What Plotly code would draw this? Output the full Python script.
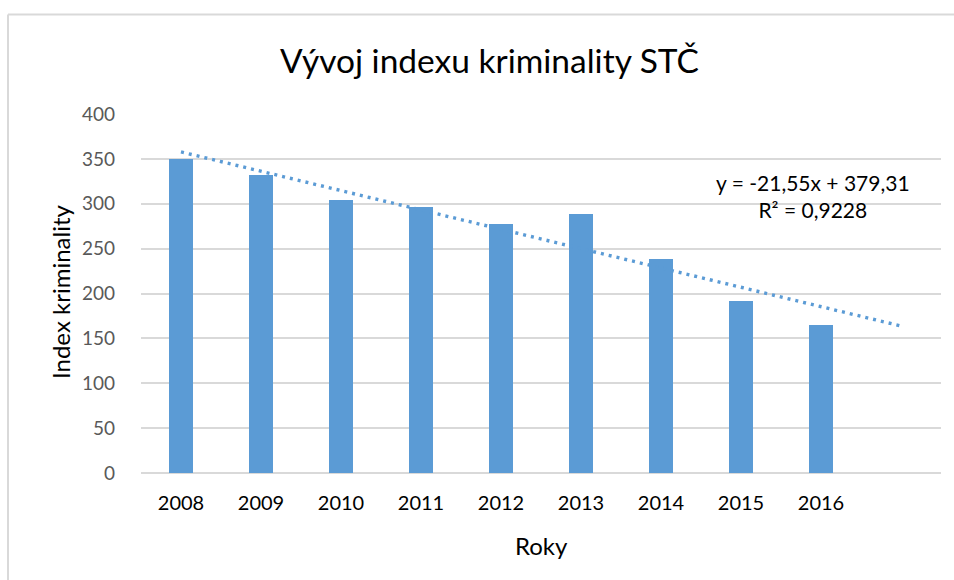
import plotly.graph_objects as go

years = ["2008", "2009", "2010", "2011", "2012", "2013", "2014", "2015", "2016"]
index_values = [350, 332, 304, 296, 278, 289, 238, 192, 165]
trend_slope = -21.55
trend_intercept = 379.31
trend_forward_periods = 1
y_ticks = [0, 50, 100, 150, 200, 250, 300, 350, 400]

BLUE = "#5B9BD5"
GRID = "#D9D9D9"
FONT = "Lato"

x_pos = list(range(len(years)))
n_trend = len(years) + trend_forward_periods
trend_x = list(range(n_trend))
trend_y = [trend_intercept + trend_slope * (i + 1) for i in trend_x]

fig = go.Figure()
fig.add_trace(go.Bar(x=x_pos, y=index_values, width=0.31, marker=dict(color=BLUE, line=dict(width=0)),
                     hoverinfo="x+y"))
fig.add_trace(go.Scatter(x=trend_x, y=trend_y, mode="lines",
                         line=dict(color=BLUE, width=3.4, dash="3px,5px")))

W, H = 954, 580
# plot area in pixel coords
PL, PR, PT, PB = 141, 941, 114, 473
L, T, R, B = PL, PT, W - PR, H - PB
pw, ph = PR - PL, PB - PT

def px(x):
    return (x - PL) / pw

def py(y):
    return (PB - y) / ph

fig.update_layout(
    width=W, height=H,
    margin=dict(l=L, r=R, t=T, b=B, pad=0),
    paper_bgcolor="white", plot_bgcolor="white",
    showlegend=False,
    bargap=0,
    font=dict(family=FONT, color="#595959"),
    xaxis=dict(range=[-0.5, n_trend - 0.5], tickmode="array", tickvals=x_pos, ticktext=years,
               showgrid=False, zeroline=False, showline=False, ticks="",
               tickfont=dict(size=20, color="#000000", family=FONT), ticklabelstandoff=16),
    yaxis=dict(range=[0, 400], tickmode="array", tickvals=y_ticks, showgrid=True, gridcolor=GRID,
               gridwidth=1.5, zeroline=True, zerolinecolor=GRID, zerolinewidth=1.5, showline=False,
               ticks="", tickfont=dict(size=19, color="#595959", family=FONT), ticklabelstandoff=25),
    shapes=[
        dict(type="line", xref="paper", yref="paper", x0=px(8), x1=px(W + 10), y0=py(14.5), y1=py(14.5),
             line=dict(color=GRID, width=2)),
        dict(type="line", xref="paper", yref="paper", x0=px(8), x1=px(8), y0=py(14.5), y1=py(H + 10),
             line=dict(color=GRID, width=2)),
    ],
    annotations=[
        dict(text="Vývoj indexu kriminality STČ", xref="paper", yref="paper", x=px(489), y=py(60),
             showarrow=False, xanchor="center", yanchor="middle",
             font=dict(size=33.5, color="#000000", family=FONT)),
        dict(text="Roky", xref="paper", yref="paper", x=px(541), y=py(545),
             showarrow=False, xanchor="center", yanchor="middle",
             font=dict(size=24, color="#000000", family=FONT)),
        dict(text="Index kriminality", xref="paper", yref="paper", x=px(60), y=py(292), textangle=-90,
             showarrow=False, xanchor="center", yanchor="middle",
             font=dict(size=24, color="#000000", family=FONT)),
        dict(text="y = -21,55x + 379,31<br>R² = 0,9228", xref="paper", yref="paper", x=px(813), y=py(196),
             showarrow=False, xanchor="center", yanchor="middle", align="center",
             font=dict(size=21, color="#000000", family=FONT)),
    ],
)

page_css = ("document.documentElement.style.overflow='hidden';"
            "document.body.style.overflow='hidden';"
            "document.body.style.margin='0';")
fig.write_html("out.html", post_script=page_css, config={"displayModeBar": False})
